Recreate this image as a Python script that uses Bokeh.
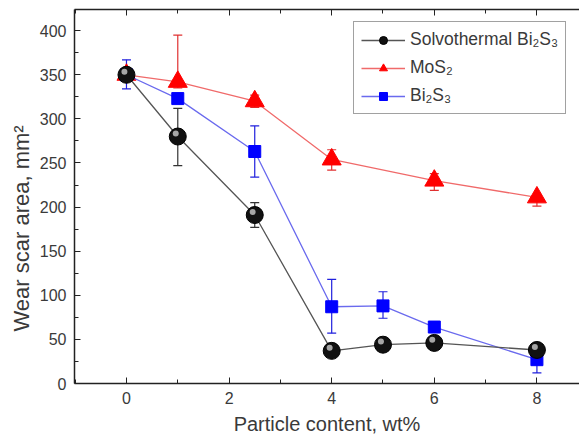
from bokeh.plotting import figure
from bokeh.models import (Range1d, Whisker, ColumnDataSource, Legend, LegendItem,
                          LinearAxis, FixedTicker, TeeHead, Title)
from bokeh.transform import dodge
from bokeh.embed import file_html
from bokeh.resources import INLINE

# data
x_solvo = [0, 1, 2.5, 4, 5, 6, 8]
y_solvo = [350, 280, 191, 37, 44, 46, 38]
lo_solvo = [345, 247, 177, 37, 44, 46, 38]
hi_solvo = [355, 312, 205, 37, 44, 46, 38]

x_mos2 = [0, 1, 2.5, 4, 6, 8]
y_mos2 = [350, 342, 320, 254, 230, 211]
lo_mos2 = [350, 335, 313, 242, 219, 201]
hi_mos2 = [350, 395, 327, 265, 238, 211]

x_bi = [0, 1, 2.5, 4, 5, 6, 8]
y_bi = [350, 323, 263, 87, 88, 64, 27]
lo_bi = [334, 318, 234, 57, 74, 58, 12]
hi_bi = [367, 328, 292, 118, 104, 70, 40]

x_ticks = [0, 2, 4, 6, 8]
y_ticks = [0, 50, 100, 150, 200, 250, 300, 350, 400]

x_label = "Particle content, wt%"
y_label = "Wear scar area, mm²"

FONT = "Liberation Sans"
TXT = "#3a3a3a"

p = figure(width=579, height=438, output_backend="svg", toolbar_location=None,
           x_range=Range1d(-1.013, 8.83), y_range=Range1d(0, 424),
           min_border_left=74, min_border_right=0, min_border_top=9, min_border_bottom=55)
p.grid.visible = False
p.outline_line_color = None
p.background_fill_color = "white"

for ax in [p.xaxis[0], p.yaxis[0]]:
    ax.axis_line_color = "#222222"
    ax.axis_line_width = 1.5
    ax.major_tick_in = 6
    ax.major_tick_out = 0
    ax.minor_tick_in = 4
    ax.minor_tick_out = 0
    ax.major_tick_line_color = "#222222"
    ax.minor_tick_line_color = "#222222"
    ax.major_label_text_font = FONT
    ax.major_label_text_font_size = "16px"
    ax.major_label_text_color = TXT
    ax.axis_label_text_font = FONT
    ax.axis_label_text_font_style = "normal"
    ax.axis_label_text_color = TXT

p.xaxis.ticker = FixedTicker(ticks=x_ticks, minor_ticks=[-1, 1, 3, 5, 7])
p.yaxis.ticker = FixedTicker(ticks=y_ticks, minor_ticks=[25, 75, 125, 175, 225, 275, 325, 375])
p.xaxis.axis_label = x_label
p.xaxis.axis_label_text_font_size = "20px"
p.xaxis.major_label_standoff = 8
p.yaxis.major_label_standoff = 8
p.xaxis.axis_label_standoff = 6

ytitle = Title(text=y_label, align="left", offset=52, standoff=6,
               text_font=FONT, text_font_size="22px", text_font_style="normal",
               text_color=TXT)
p.add_layout(ytitle, "left")

top = LinearAxis(ticker=FixedTicker(ticks=x_ticks, minor_ticks=[-1, 1, 3, 5, 7]),
                 major_label_text_font_size="0px", axis_line_color="#222222", axis_line_width=1.5,
                 major_tick_in=6, major_tick_out=0, minor_tick_in=4, minor_tick_out=0,
                 major_tick_line_color="#222222", minor_tick_line_color="#222222")
p.add_layout(top, "above")

BLK_L = "#555555"
RED_L = "#f06a6a"
BLU_L = "#6a6aee"

s1 = ColumnDataSource(dict(x=x_solvo, y=y_solvo, lo=lo_solvo, hi=hi_solvo))
s2 = ColumnDataSource(dict(x=x_mos2, y=y_mos2, lo=lo_mos2, hi=hi_mos2))
s3 = ColumnDataSource(dict(x=x_bi, y=y_bi, lo=lo_bi, hi=hi_bi))

for src, col in [(s2, "#e03030"), (s1, "#333333"), (s3, "#2020dd")]:
    w = Whisker(source=src, base="x", lower="lo", upper="hi", line_color=col, line_width=1.2,
                upper_head=TeeHead(size=9, line_color=col, line_width=1.2),
                lower_head=TeeHead(size=9, line_color=col, line_width=1.2))
    p.add_layout(w)

l2 = p.line("x", "y", source=s2, line_color=RED_L, line_width=1.3)
m2 = p.scatter("x", "y", source=s2, marker="triangle", size=19, fill_color="#ff0000",
               line_color="#ff0000")
l3 = p.line("x", "y", source=s3, line_color=BLU_L, line_width=1.3)
m3 = p.scatter("x", "y", source=s3, marker="square", size=12, fill_color="#0000ff",
               line_color="#0000ff")
l1 = p.line("x", "y", source=s1, line_color=BLK_L, line_width=1.3)
m1 = p.scatter("x", "y", source=s1, marker="circle", size=17, fill_color="#111111",
               line_color="#000000", line_width=1)
p.scatter(dodge("x", -0.04), dodge("y", 3.5), source=s1, marker="circle", size=6,
          fill_color="#cccccc", line_color=None, fill_alpha=0.8)

legend = Legend(items=[
    LegendItem(label="Solvothermal Bi₂S₃", renderers=[l1, m1]),
    LegendItem(label="MoS₂", renderers=[l2, m2]),
    LegendItem(label="Bi₂S₃", renderers=[l3, m3]),
], location=(279, 269))
legend.label_text_font = FONT
legend.label_text_font_size = "17.5px"
legend.label_text_color = TXT
legend.glyph_width = 44
legend.glyph_height = 20
legend.spacing = 7
legend.padding = 7
legend.margin = 0
legend.label_standoff = 5
legend.border_line_color = "#444444"
legend.border_line_width = 1.2
legend.background_fill_alpha = 1
p.add_layout(legend)

open("out.html", "w").write(file_html(p, INLINE))
